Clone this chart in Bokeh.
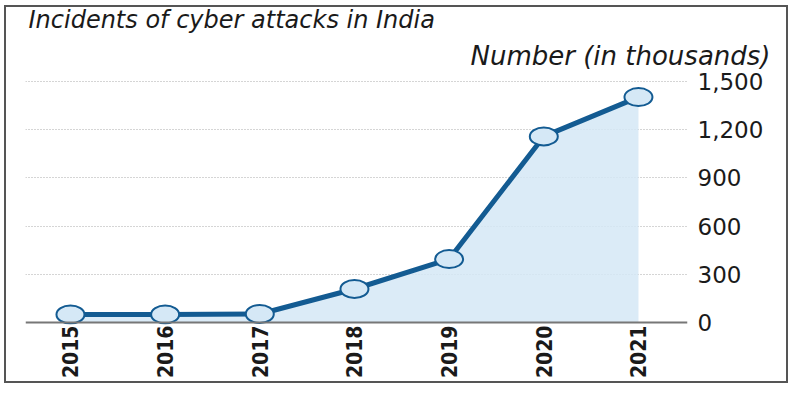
from bokeh.plotting import figure
from bokeh.layouts import column
from bokeh.models import FixedTicker, NumeralTickFormatter, Span, Range1d, LinearAxis, Title
from bokeh.embed import file_html
from bokeh.resources import INLINE
import math

years = [2015, 2016, 2017, 2018, 2019, 2020, 2021]
incidents = [49.5, 50.4, 53.1, 208.5, 394.5, 1158.2, 1402.8]  # thousands
y_ticks = [0, 300, 600, 900, 1200, 1500]

title_text = "Incidents of cyber attacks in India"
unit_text = "Number (in thousands)"

LINE = "#135b92"
FILL = "#d5e8f6"

p = figure(width=780, height=374, output_backend="svg", toolbar_location=None,
           x_range=Range1d(2014.525, 2021.518), y_range=Range1d(-12.4, 1506.2),
           min_border_left=19, min_border_right=99, min_border_top=73, min_border_bottom=55,
           y_axis_location=None)
p.outline_line_color = None
p.background_fill_color = "white"
p.border_fill_color = "white"

# area under curve
p.varea(x=years, y1=[0] * len(years), y2=incidents, fill_color=FILL, fill_alpha=0.85)

# right axis
yaxis = LinearAxis(ticker=FixedTicker(ticks=y_ticks),
                   formatter=NumeralTickFormatter(format="0,0"))
yaxis.axis_line_color = None
yaxis.major_tick_line_color = None
yaxis.minor_tick_line_color = None
yaxis.major_tick_out = 0
yaxis.major_label_text_font = "DejaVu Sans"
yaxis.major_label_text_font_size = "23px"
yaxis.major_label_text_color = "#1a1a1a"
yaxis.major_label_standoff = 10
p.add_layout(yaxis, "right")

p.ygrid.ticker = FixedTicker(ticks=y_ticks[1:])
p.ygrid.grid_line_color = "#aaaaaa"
p.ygrid.grid_line_dash = "1 2"
p.ygrid.grid_line_width = 1
p.xgrid.grid_line_color = None

# baseline
p.add_layout(Span(location=0, dimension="width", line_color="#777777", line_width=2))

# x axis
xa = p.xaxis[0]
xa.ticker = FixedTicker(ticks=years)
xa.axis_line_color = None
xa.major_tick_line_color = None
xa.minor_tick_line_color = None
xa.major_tick_out = 0
xa.major_label_orientation = math.pi / 2
xa.major_label_text_font = "DejaVu Sans Condensed"
xa.major_label_text_font_style = "bold"
xa.major_label_text_font_size = "21px"
xa.major_label_text_color = "#1a1a1a"
xa.major_label_standoff = 1

# line and markers
p.line(years, incidents, line_color=LINE, line_width=5)
p.ellipse(x=years, y=incidents, width=28, height=18, width_units="screen", height_units="screen",
          fill_color=FILL, line_color=LINE, line_width=2)

# titles (first added sits closest to the plot)
p.add_layout(Title(text=unit_text, align="right", offset=-83, standoff=19,
                   text_font="DejaVu Sans", text_font_style="italic", text_font_size="26px",
                   text_color="#1a1a1a"), "above")
p.add_layout(Title(text=title_text, align="left", offset=3, standoff=-8,
                   text_font="DejaVu Sans", text_font_style="italic", text_font_size="24px",
                   text_color="#1a1a1a"), "above")

layout = column(p, styles={"border": "2px solid #555555", "margin-left": "4px", "margin-top": "5px"})

open("out.html", "w").write(file_html(layout, INLINE))
